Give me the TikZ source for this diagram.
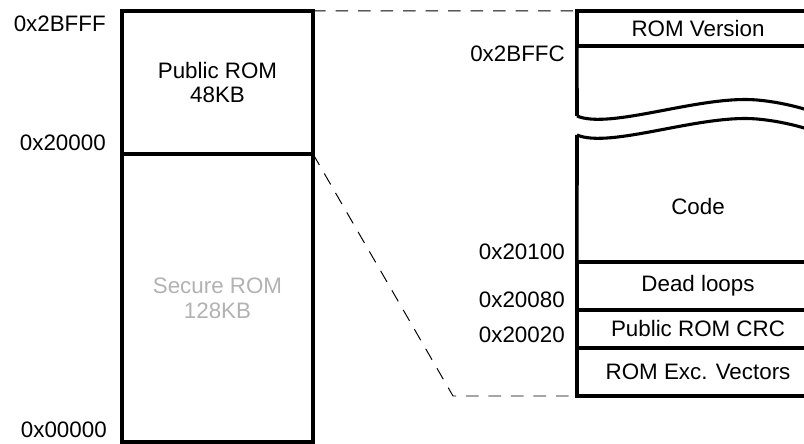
\documentclass[tikz,border=0pt]{standalone}
\usepackage{fontspec}
\setmainfont{Liberation Sans}

\begin{document}
\begin{tikzpicture}[x=0.025cm,y=-0.025cm,
    font=\fontsize{15.9pt}{17.7pt}\selectfont,
    region/.style={draw,line width=2.5pt,inner sep=0pt,outer sep=0pt,align=center},
    addr/.style={anchor=east,inner sep=0pt},
    wave/.style={line width=2.2pt},
    guide/.style={dash pattern=on 9pt off 7pt,line width=0.7pt}]
  % memory map on the left, zoom of the public ROM on the right
  \clip (0,0) rectangle (804,444);
  \node[region,minimum width=4.775cm,minimum height=3.575cm] (pub) at (217.5,82.5) {Public ROM\\48KB};
  \node[region,minimum width=4.775cm,minimum height=7.2cm,text=black!30] (sec) at (217.5,298) {Secure ROM\\128KB};
  \node[region,minimum width=6.05cm,minimum height=0.875cm] (ver) at (698,28.5) {ROM Version};
  \node[region,minimum width=6.05cm,minimum height=1.2cm] (dead) at (698,286) {Dead loops};
  \node[region,minimum width=6.05cm,minimum height=0.95cm] (crc) at (698,329) {Public ROM CRC};
  \node[region,minimum width=6.05cm,minimum height=1.2cm] (exc) at (698,372) {ROM Exc. Vectors};
  \node (code) at (698,207) {Code};
  % broken code area
  \draw[line width=2.5pt] (ver.south west) -- (577,116);
  \draw[line width=2.5pt] (577,135) -- (dead.north west);
  \draw[wave] (577,116) .. controls (610,130) and (700,95) .. (757,100) .. controls (790,103) and (815,112) .. (830,118);
  \draw[wave] (577,135) .. controls (610,149) and (700,114) .. (757,119) .. controls (790,122) and (815,131) .. (830,137);
  % addresses
  \node[addr] (a2bfff) at (106,23.5) {0x2BFFF};
  \node[addr] (a20000) at (106,143) {0x20000};
  \node[addr] (a00000) at (107,430) {0x00000};
  \node[addr] (a2bffc) at (565,54) {0x2BFFC};
  \node[addr] (a20100) at (565,252) {0x20100};
  \node[addr] (a20080) at (565,300) {0x20080};
  \node[addr] (a20020) at (565,335) {0x20020};
  % zoom guides
  \coordinate (bend) at (453,396);
  \draw[guide] (pub.north east) -- (ver.north west);
  \draw[guide] (pub.south east) -- (bend) -- (exc.south west);
\end{tikzpicture}
\end{document}
